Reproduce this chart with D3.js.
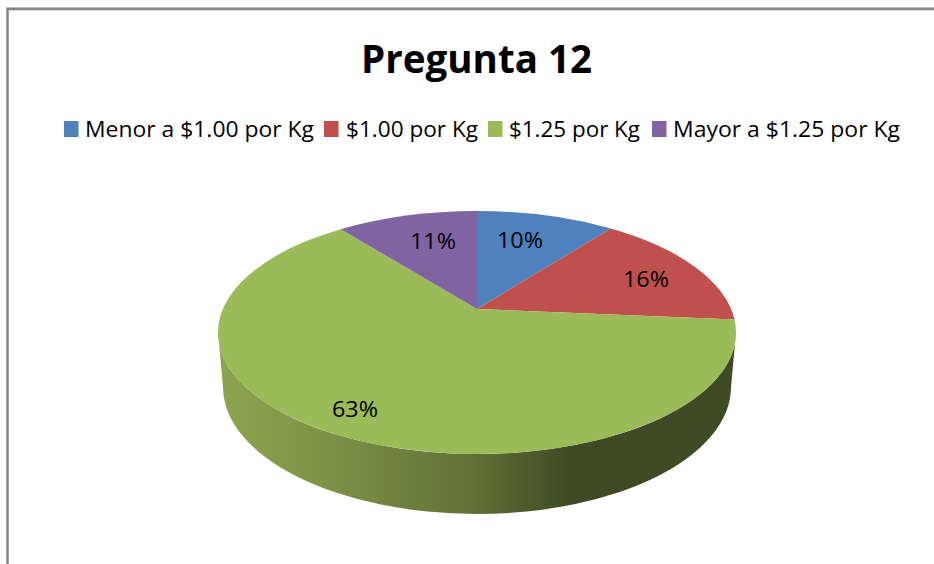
<!DOCTYPE html>
<html><head><meta charset="utf-8"><script src="https://cdn.jsdelivr.net/npm/d3@7"></script>
<style>html,body{margin:0;padding:0;background:#fff}svg{display:block}</style></head><body>
<svg id="c" width="934" height="564"></svg>
<script>
const categories=["Menor a $1.00 por Kg","$1.00 por Kg","$1.25 por Kg","Mayor a $1.25 por Kg"];
const values=[10.4,16,63,10.6];
const labels=["10%","16%","63%","11%"];
const colors=["#4F81BD","#C0504D","#9BBB59","#8064A2"];
const title="Pregunta 12";
const font="'Open Sans','DejaVu Sans',sans-serif";
const svg=d3.select("#c");
svg.append("path").attr("d","M6 7.5H934").attr("fill","none").attr("stroke","#d0d0d0").attr("stroke-width",1);
svg.append("path").attr("d","M7.5 564V9H934").attr("fill","none").attr("stroke","#858585").attr("stroke-width",2.5);
svg.append("text").attr("x",361).attr("y",73).attr("font-family",font).attr("font-weight",700).attr("font-size",39)
  .attr("textLength",231).attr("lengthAdjust","spacingAndGlyphs").attr("fill","#000").text(title);
// perspective projection of the pie's top face
const cx=477,apexY=309,rx=259,faceTop=211,faceBottom=454,ecy=(faceTop+faceBottom)/2,ry=(faceBottom-faceTop)/2;
const k=((faceBottom-apexY)-(apexY-faceTop))/((faceBottom-apexY)+(apexY-faceTop));
const h=(apexY-faceTop)*(1+k),w=rx*Math.sqrt(1-k*k);
const proj=a=>{const u=Math.sin(a),v=Math.cos(a),d=1+k*v;return [cx+w*u/d,apexY-h*v/d];};
const defs=svg.append("defs");
const g=defs.append("linearGradient").attr("id","side").attr("gradientUnits","userSpaceOnUse").attr("x1",219).attr("x2",735).attr("y1",0).attr("y2",0);
[[0,"#8CA550"],[0.2,"#7D9347"],[0.5,"#5F7136"],[0.68,"#3E4A24"],[1,"#3E4A24"]].forEach(s=>g.append("stop").attr("offset",s[0]).attr("stop-color",s[1]));
// side wall
const lrx=254,lcy=387,lry=127;
svg.append("path").attr("fill","url(#side)").attr("d",
 `M${cx-rx} ${ecy}L${cx-lrx} ${lcy}A${lrx} ${lry} 0 0 0 ${cx+lrx} ${lcy}L${cx+rx} ${ecy}A${rx} ${ry} 0 0 1 ${cx-rx} ${ecy}Z`);
const arcs=d3.pie().sort(null).value(d=>d)(values);
arcs.forEach((a,i)=>{
  const p0=proj(a.startAngle),p1=proj(a.endAngle),large=a.endAngle-a.startAngle>Math.PI?1:0;
  svg.append("path").attr("fill",colors[i]).attr("d",`M${cx} ${apexY}L${p0[0]} ${p0[1]}A${rx} ${ry} 0 ${large} 1 ${p1[0]} ${p1[1]}Z`);
});
const lp=[[520,248],[646,287],[355,417],[433,249]];
labels.forEach((t,i)=>svg.append("text").attr("x",lp[i][0]-23).attr("y",lp[i][1]).attr("font-family",font).attr("font-size",21)
  .attr("textLength",46).attr("lengthAdjust","spacingAndGlyphs").attr("fill","#000").text(t));
const lx=[64,324,488,652],tx=[85,346,509,673],tw=[229,132,131,227];
categories.forEach((t,i)=>{
  svg.append("rect").attr("x",lx[i]).attr("y",121).attr("width",14.5).attr("height",16).attr("fill",colors[i]);
  svg.append("text").attr("x",tx[i]).attr("y",137).attr("font-family",font).attr("font-size",22)
   .attr("textLength",tw[i]).attr("lengthAdjust","spacingAndGlyphs").attr("fill","#000").text(t);
});
</script></body></html>
